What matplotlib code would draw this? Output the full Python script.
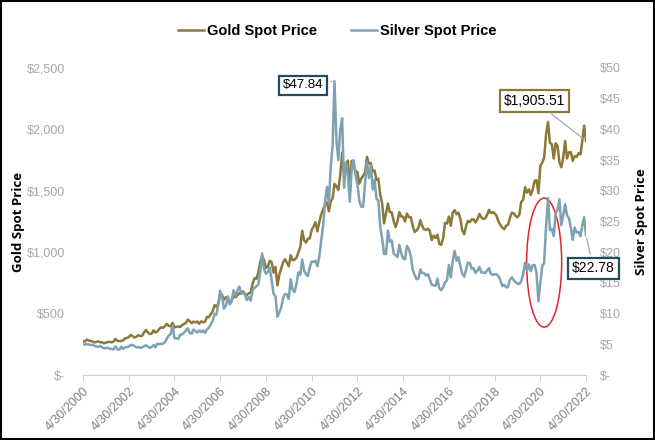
import numpy as np
import pandas as pd
import matplotlib
matplotlib.use("Agg")
from matplotlib import pyplot as plt
import matplotlib.dates as mdates
from matplotlib.patches import Ellipse, Rectangle

# month-end prices, 4/30/2000 .. 4/30/2022
dates = pd.date_range("2000-04-30", "2022-04-30", freq="ME")

gold = [
    276, 272, 288, 282, 277, 273, 265, 269, 274,
    266, 267, 258, 264, 268, 270, 266, 273, 293, 279, 275, 277,
    282, 297, 302, 308, 326, 318, 305, 312, 324, 317, 319, 347,
    367, 348, 334, 336, 364, 346, 354, 375, 388, 384, 398, 416,
    400, 396, 424, 388, 393, 395, 391, 407, 415, 425, 452, 438,
    422, 435, 428, 436, 417, 437, 430, 433, 473, 470, 495, 517,
    569, 556, 582, 655, 653, 613, 633, 624, 599, 604, 646, 632,
    650, 665, 662, 680, 659, 650, 665, 673, 743, 789, 783, 836,
    923, 971, 934, 871, 885, 930, 918, 833, 880, 730, 815, 870,
    919, 942, 916, 884, 975, 934, 939, 955, 996, 1040, 1175, 1097,
    1078, 1109, 1113, 1180, 1208, 1244, 1169, 1246, 1307, 1346, 1386, 1405,
    1333, 1409, 1439, 1556, 1536, 1506, 1628, 1813, 1620, 1722, 1746, 1531,
    1744, 1696, 1662, 1651, 1558, 1598, 1622, 1648, 1776, 1720, 1726, 1657,
    1664, 1588, 1598, 1469, 1394, 1234, 1314, 1396, 1326, 1324, 1253, 1204,
    1251, 1326, 1291, 1288, 1250, 1315, 1285, 1286, 1216, 1164, 1175, 1199,
    1260, 1214, 1187, 1180, 1191, 1172, 1098, 1135, 1115, 1142, 1065, 1060,
    1118, 1238, 1233, 1290, 1215, 1320, 1343, 1309, 1322, 1272, 1178, 1146,
    1212, 1255, 1245, 1267, 1266, 1242, 1269, 1311, 1283, 1270, 1275, 1303,
    1345, 1318, 1325, 1316, 1298, 1251, 1223, 1200, 1187, 1215, 1223, 1279,
    1321, 1317, 1295, 1284, 1305, 1409, 1427, 1529, 1485, 1511, 1465, 1515,
    1581, 1586, 1480, 1702, 1730, 1768, 1960, 2060, 1890, 1879, 1762, 1887,
    1863, 1734, 1691, 1769, 1905, 1763, 1813, 1814, 1743, 1783, 1775, 1806,
    1795, 1900, 2030, 1905.51,
]

silver = [
    5.00, 4.95, 5.03, 4.98, 4.90, 4.90, 4.75, 4.65, 4.58,
    4.75, 4.50, 4.35, 4.37, 4.45, 4.30, 4.20, 4.18, 4.65, 4.20, 4.10, 4.60,
    4.25, 4.48, 4.55, 4.60, 4.88, 4.90, 4.70, 4.50, 4.55, 4.40, 4.52, 4.67,
    4.85, 4.63, 4.42, 4.55, 4.90, 4.50, 5.10, 5.00, 5.05, 5.10, 5.35, 5.95,
    6.40, 6.65, 8.10, 6.00, 6.00, 5.85, 6.60, 6.60, 6.90, 7.25, 7.60, 6.80,
    6.75, 7.40, 7.15, 6.90, 7.25, 7.00, 7.25, 6.85, 7.40, 7.70, 8.20, 8.80,
    9.95, 9.80, 11.50, 13.70, 12.70, 10.80, 11.30, 12.80, 11.50, 12.00, 13.80, 12.90,
    13.70, 14.40, 13.40, 13.30, 13.10, 12.20, 12.70, 12.10, 13.80, 14.20, 14.45, 14.76,
    16.85, 19.80, 17.20, 16.50, 16.80, 17.50, 15.30, 13.20, 12.80, 9.50, 10.20, 11.00,
    12.60, 13.20, 13.10, 12.40, 15.60, 13.90, 13.50, 14.80, 16.70, 16.30, 18.80, 17.00,
    16.40, 16.10, 17.50, 18.50, 18.40, 18.60, 17.70, 19.30, 21.90, 24.40, 28.10, 30.60,
    28.00, 33.80, 37.30, 47.84, 38.30, 35.00, 40.00, 41.80, 30.50, 34.50, 32.80, 28.20,
    33.80, 35.00, 32.50, 31.10, 28.40, 27.40, 27.40, 31.30, 34.70, 32.10, 34.20, 30.20,
    31.80, 28.70, 28.40, 24.10, 22.20, 19.70, 19.70, 23.50, 21.70, 21.90, 19.80, 19.50,
    19.20, 21.20, 19.80, 19.00, 18.80, 21.00, 20.50, 19.40, 17.10, 16.30, 15.60, 15.70,
    17.20, 16.60, 16.60, 16.20, 16.40, 15.60, 14.70, 14.60, 14.50, 15.70, 14.10, 13.80,
    14.30, 15.10, 15.40, 17.90, 15.90, 18.60, 20.20, 18.60, 19.20, 17.70, 16.50, 16.00,
    17.20, 18.30, 18.20, 17.30, 17.40, 16.60, 17.00, 17.60, 16.70, 16.70, 16.60, 17.00,
    17.40, 16.50, 16.30, 16.40, 16.40, 16.10, 15.50, 14.50, 14.70, 14.30, 14.30, 15.50,
    15.90, 15.50, 15.10, 14.90, 14.80, 15.30, 16.40, 18.30, 17.00, 18.00, 16.90, 17.90,
    17.90, 16.60, 12.00, 15.00, 17.80, 18.20, 24.30, 28.80, 23.60, 23.80, 22.60, 26.40,
    26.90, 28.60, 24.40, 25.90, 27.80, 26.00, 25.50, 24.00, 22.00, 24.00, 23.20, 23.30,
    22.60, 24.30, 25.70, 22.78,
]

tick_years = list(range(2000, 2023, 2))
tick_labels = ["4/30/%d" % y for y in tick_years]

GOLD = "#8c7839"
SILVER = "#7ca2b4"
TEAL = "#1f4e5f"
TICKGREY = "#a6a6a6"

plt.rcParams["font.family"] = ["Liberation Sans", "DejaVu Sans"]

fig = plt.figure(figsize=(6.55, 4.4), dpi=100)
ax = fig.add_axes([0.1267, 0.1477, 0.768, 0.698])
ax2 = ax.twinx()

ax.plot(dates, gold, color=GOLD, lw=1.8, label="Gold Spot Price")
ax2.plot(dates, silver, color=SILVER, lw=1.8, label="Silver Spot Price")

ax.set_ylim(0, 2500)
ax2.set_ylim(0, 50)
ax.set_xlim(pd.Timestamp("2000-04-30"), pd.Timestamp("2022-04-30"))

ax.set_yticks(np.arange(0, 2501, 500))
ax.set_yticklabels(["$-"] + ["${:,.0f}".format(v) for v in np.arange(500, 2501, 500)])
ax2.set_yticks(np.arange(0, 51, 5))
ax2.set_yticklabels(["$-"] + ["$%d" % v for v in range(5, 51, 5)])

ticks = [pd.Timestamp("%d-04-30" % y) for y in tick_years]
ax.set_xticks(ticks)
ax.set_xticklabels(tick_labels, rotation=45, ha="right", rotation_mode="anchor")

for a in (ax, ax2):
    for s in a.spines.values():
        s.set_visible(False)
ax.spines["bottom"].set_visible(True)
ax.spines["bottom"].set_color("#d0d0d0")
ax.tick_params(axis="x", colors="#d0d0d0", labelcolor="#808080", labelsize=9, length=4)
ax.tick_params(axis="y", length=0, labelcolor=TICKGREY, labelsize=9, pad=13)
ax2.tick_params(axis="y", length=0, labelcolor=TICKGREY, labelsize=9, pad=10)

ax.set_ylabel("Gold Spot Price", family="Open Sans", fontweight="bold", fontsize=9.5)
ax2.set_ylabel("Silver Spot Price", family="Open Sans", fontweight="bold", fontsize=9.5)
ax.yaxis.set_label_coords(-0.116, 0.5)
ax2.yaxis.set_label_coords(1.097, 0.5)

# annotations
box = dict(boxstyle="square,pad=0.28", fc="white", lw=1.6)
ax2.annotate("$47.84", xy=(pd.Timestamp("2011-04-30"), 47.84), xytext=(-8, -3),
             textcoords="offset points", ha="right", va="center", fontsize=9.5,
             bbox=dict(box, ec=TEAL),
             arrowprops=dict(arrowstyle="-", color="#a0a0a0", lw=0.8))
ax.annotate("$1,905.51", xy=(pd.Timestamp("2022-04-30"), 1905.51), xytext=(-15, 29),
            textcoords="offset points", ha="right", va="center", fontsize=10,
            bbox=dict(box, ec=GOLD),
            arrowprops=dict(arrowstyle="-", color="#a0a0a0", lw=0.8))
ax2.annotate("$22.78", xy=(pd.Timestamp("2022-04-30"), 22.78), xytext=(-10, -24),
             textcoords="offset points", ha="left", va="center", fontsize=10,
             bbox=dict(box, ec=TEAL),
             arrowprops=dict(arrowstyle="-", color="#a0a0a0", lw=0.8))

# red circle around the 2020 silver move
cx = mdates.date2num(pd.Timestamp("2020-06-30"))
ell = Ellipse((cx, 18.3), width=560, height=21, fill=False, ec="#e0262b", lw=1.1)
ax2.add_patch(ell)

fig.legend(loc="upper center", bbox_to_anchor=(0.515, 0.975), ncol=2, frameon=False,
           prop=dict(weight="bold", size=10.5), handlelength=1.8, handletextpad=0.2,
           columnspacing=2.3)

fig.patches.append(Rectangle((0.002, 0.003), 0.996, 0.994, transform=fig.transFigure,
                             fill=False, ec="black", lw=1.5))

fig.savefig("out.png", dpi=100)
